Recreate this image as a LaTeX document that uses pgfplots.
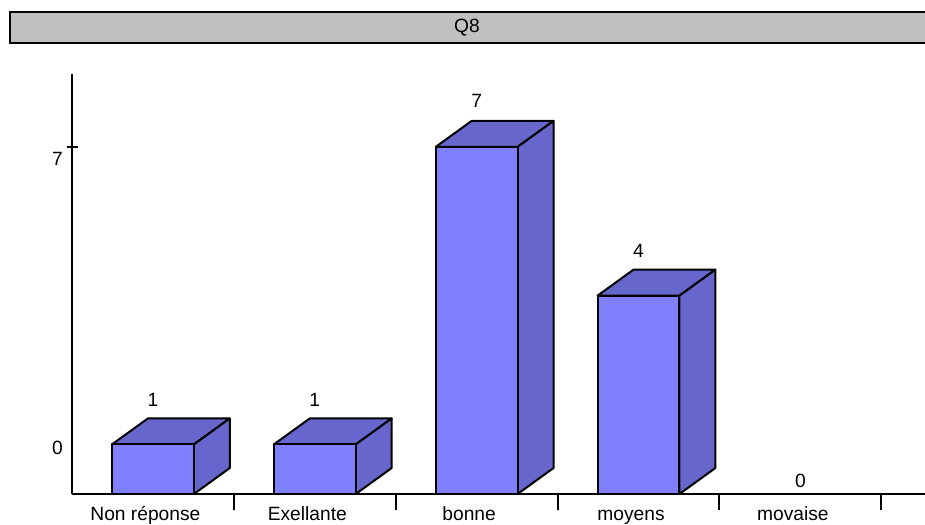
\documentclass[border=0pt]{standalone}
\usepackage{pgfplots}
\pgfplotsset{compat=1.18}
\usepackage{pgfplotstable}
\usepackage{fontspec}
\setmainfont{Liberation Sans}

\definecolor{frontcol}{RGB}{128,128,255}
\definecolor{shadecol}{RGB}{102,102,204}
\definecolor{titlegray}{RGB}{192,192,192}

% pos = category position, val = count, lift = label offset above the front face (pt)
\pgfplotstableread{
pos val lift
0   1   45
1   1   45
2   7   46
3   4   45
4   0   13
}\bardata

% bar geometry in axis units
\def\hw{0.253}   % half bar width
\def\dx{0.222}   % depth, horizontal
\def\dy{0.524}   % depth, vertical

% top and side faces of a 3D bar: #1 = category position, #2 = value
\newcommand{\topside}[2]{%
  \pgfmathsetmacro{\xa}{#1-\hw}%
  \pgfmathsetmacro{\xb}{#1+\hw}%
  \pgfmathsetmacro{\xc}{#1+\hw+\dx}%
  \pgfmathsetmacro{\xd}{#1-\hw+\dx}%
  \pgfmathsetmacro{\yb}{#2+\dy}%
  \edef\facecmds{%
    \noexpand\addplot[face] coordinates {(\xa,#2) (\xb,#2) (\xc,\yb) (\xd,\yb)} -- cycle;
    \noexpand\addplot[face] coordinates {(\xb,0) (\xb,#2) (\xc,\yb) (\xc,\dy)} -- cycle;
  }\facecmds
}

\newcommand{\lbl}{\fontsize{19.2}{22}\selectfont}

\begin{document}
\lbl
\begin{tikzpicture}
\path[use as bounding box] (0,0) rectangle (925pt,524pt);

% title bar
\draw[fill=titlegray, line width=2pt] (10pt,481pt) rectangle (940pt,512pt);
\node at (467pt,496pt) {Q8};

\begin{axis}[
  at={(72pt,30pt)}, anchor=south west,
  scale only axis, width=853pt, height=420pt,
  xmin=-0.5, xmax=4.77, ymin=0, ymax=8.47,
  axis x line*=bottom, axis y line*=left,
  axis line style={line width=2pt},
  every tick/.style={black, line width=2pt},
  tick align=center, major tick length=11pt,
  /pgf/number format/assume math mode=true,
  ticklabel style={font=\lbl},
  xtick={0,...,4},
  xticklabels={Non réponse, Exellante, bonne, moyens, movaise},
  xtick style={draw=none},
  xticklabel style={anchor=base, yshift=-21pt, xshift=-7.5pt},
  extra x ticks={0.5,1.5,2.5,3.5,4.5},
  extra x tick labels={},
  extra x tick style={xtick style={draw=black}, tick align=outside, major tick length=16pt},
  ytick={7},
  yticklabels={\smash{\raisebox{-18.7pt}{7}}},
  extra y ticks={0},
  extra y tick labels={\smash{\raisebox{39.3pt}{0}}},
  extra y tick style={ytick style={draw=none}},
  yticklabel style={xshift=3pt},
  face/.style={fill=shadecol, draw=black, line width=2pt, line join=round, mark=none},
  clip=false,
]
\topside{0}{1}
\topside{1}{1}
\topside{2}{7}
\topside{3}{4}

\addplot[ybar, bar shift=0pt, bar width=0.506,
  fill=frontcol, draw=black, line width=2pt, line join=round,
  nodes near coords,
  visualization depends on={\thisrow{lift} \as \lift},
  nodes near coords style={anchor=center, yshift=\lift pt, font=\lbl, black},
] table[x=pos, y=val] {\bardata};
\end{axis}
\end{tikzpicture}
\end{document}
